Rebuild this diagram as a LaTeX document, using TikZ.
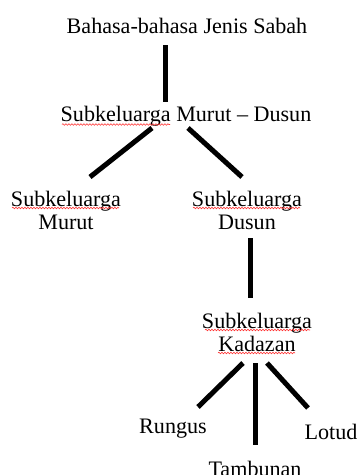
\documentclass[tikz,border=0pt]{standalone}
\usepackage{fontspec}
\setmainfont{Liberation Serif}
\usetikzlibrary{decorations.pathmorphing}
\begin{document}
\begin{tikzpicture}[x=1pt,y=-1pt,
  lbl/.style={font=\fontsize{22.1}{23}\selectfont, inner sep=0pt, align=center},
  conn/.style={line width=5pt},
  squig/.style={red!80!white, line width=0.6pt, decorate, decoration={snake, amplitude=0.8pt, segment length=3pt}}]
\useasboundingbox (0,0) rectangle (359,475);
\node[lbl, anchor=base] (root) at (187,33) {Bahasa-bahasa Jenis Sabah};
\node[lbl, anchor=base] (md) at (186,121) {Subkeluarga Murut -- Dusun};
\node[lbl, anchor=center] (mu) at (66,210) {Subkeluarga\\Murut};
\node[lbl, anchor=center] (du) at (247,210) {Subkeluarga\\Dusun};
\node[lbl, anchor=center] (ka) at (257,332) {Subkeluarga\\Kadazan};
\node[lbl, anchor=base] (ru) at (173,433) {Rungus};
\node[lbl, anchor=base] (lo) at (331,439) {Lotud};
\node[lbl, anchor=base] (ta) at (255,476) {Tambunan};
% connector end points
\coordinate (r1) at (165.5,45); \coordinate (r2) at (165.5,102);
\coordinate (m1a) at (152,128); \coordinate (m1b) at (90,177);
\coordinate (m2a) at (188,128); \coordinate (m2b) at (242,177);
\coordinate (d1) at (250.5,238); \coordinate (d2) at (250.5,298);
\coordinate (k1a) at (243,363); \coordinate (k1b) at (198,407);
\coordinate (k2a) at (255,363); \coordinate (k2b) at (255,445);
\coordinate (k3a) at (267,363); \coordinate (k3b) at (308,408);
\draw[conn] (r1) -- (r2);
\draw[conn] (m1a) -- (m1b);
\draw[conn] (m2a) -- (m2b);
\draw[conn] (d1) -- (d2);
\draw[conn] (k1a) -- (k1b);
\draw[conn] (k2a) -- (k2b);
\draw[conn] (k3a) -- (k3b);
% spell-check squiggles
\draw[squig] (62,124.5) -- (170,124.5);
\draw[squig] (12,208) -- (119,208);
\draw[squig] (193,208) -- (300,208);
\draw[squig] (205,330) -- (310,330);
\draw[squig] (218,353) -- (295,353);
\end{tikzpicture}
\end{document}
